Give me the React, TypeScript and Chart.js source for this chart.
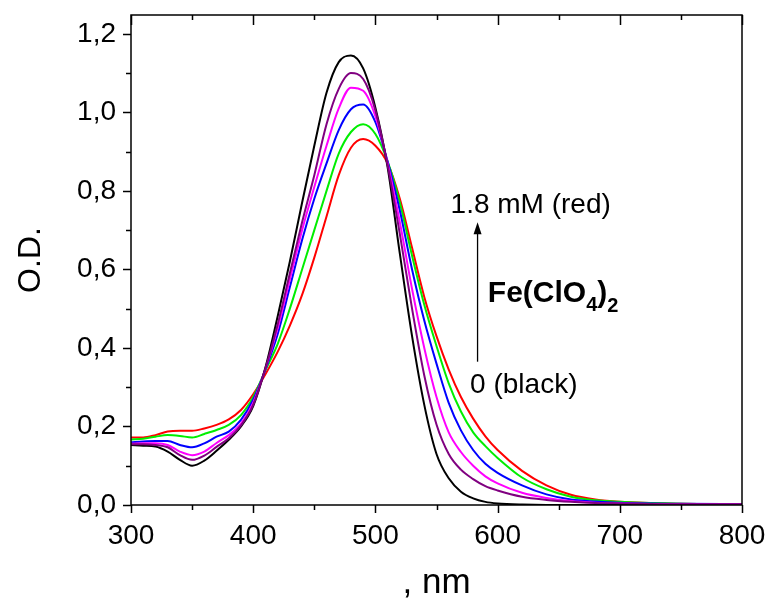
import React, { useEffect, useRef } from "react";
import { Chart, registerables } from "chart.js";

Chart.register(...registerables);

const FONT = "'Liberation Sans', Arial, Helvetica, sans-serif";

// Wavelength grid (nm)
const wavelengths = [
  300, 310, 320, 330, 340, 350, 360, 370, 380, 390, 400, 410, 420, 430, 440,
  450, 460, 470, 480, 490, 500, 510, 520, 530, 540, 550, 560, 570, 580, 590,
  600, 620, 640, 660, 680, 700, 750, 800,
];

// Optical density for each Fe(ClO4)2 concentration
const odBlack = [
  0.153, 0.151, 0.149, 0.136, 0.115, 0.1, 0.113, 0.138, 0.166, 0.2, 0.252, 0.35,
  0.48, 0.62, 0.77, 0.915, 1.05, 1.128, 1.145, 1.112, 1.012, 0.86, 0.64, 0.43,
  0.255, 0.13, 0.068, 0.034, 0.017, 0.008, 0.004, 0.001, 0.0, 0.0, 0.0, 0.0,
  0.0, 0.0,
];
const odPurple = [
  0.155, 0.155, 0.153, 0.147, 0.127, 0.115, 0.126, 0.148, 0.17, 0.203, 0.255,
  0.348, 0.46, 0.59, 0.72, 0.84, 0.97, 1.06, 1.1, 1.085, 1.005, 0.865, 0.69,
  0.5, 0.33, 0.205, 0.13, 0.09, 0.066, 0.048, 0.037, 0.021, 0.013, 0.008,
  0.005, 0.004, 0.002, 0.002,
];
const odMagenta = [
  0.156, 0.157, 0.157, 0.153, 0.136, 0.127, 0.136, 0.158, 0.178, 0.207, 0.26,
  0.347, 0.45, 0.575, 0.7, 0.81, 0.915, 1.01, 1.063, 1.055, 0.99, 0.87, 0.72,
  0.55, 0.4, 0.275, 0.185, 0.135, 0.1, 0.073, 0.055, 0.031, 0.018, 0.01,
  0.006, 0.004, 0.002, 0.002,
];
const odBlue = [
  0.16, 0.162, 0.163, 0.163, 0.153, 0.147, 0.157, 0.174, 0.187, 0.217, 0.268,
  0.345, 0.435, 0.555, 0.675, 0.78, 0.87, 0.955, 1.008, 1.02, 0.975, 0.875,
  0.75, 0.6, 0.47, 0.36, 0.26, 0.19, 0.14, 0.105, 0.082, 0.05, 0.027, 0.014,
  0.009, 0.006, 0.003, 0.002,
];
const odGreen = [
  0.167, 0.169, 0.174, 0.178, 0.176, 0.172, 0.181, 0.191, 0.204, 0.229, 0.275,
  0.343, 0.41, 0.5, 0.6, 0.7, 0.8, 0.895, 0.95, 0.97, 0.945, 0.875, 0.77,
  0.635, 0.51, 0.405, 0.31, 0.238, 0.185, 0.15, 0.12, 0.07, 0.04, 0.021, 0.012,
  0.008, 0.003, 0.002,
];
const odRed = [
  0.172, 0.172, 0.178, 0.187, 0.189, 0.189, 0.195, 0.204, 0.218, 0.242, 0.282,
  0.333, 0.39, 0.457, 0.535, 0.63, 0.735, 0.84, 0.91, 0.932, 0.915, 0.87, 0.78,
  0.655, 0.53, 0.43, 0.345, 0.275, 0.22, 0.175, 0.14, 0.087, 0.05, 0.026,
  0.014, 0.008, 0.003, 0.002,
];

const seriesNames = ["purple", "black", "magenta", "blue", "green", "red"];
const seriesColors = ["#800080", "#000000", "#ff00ff", "#0000ff", "#00ee00", "#ff0000"];
const seriesValues = [odPurple, odBlack, odMagenta, odBlue, odGreen, odRed];

const xTicks = [300, 400, 500, 600, 700, 800];
const xMinorTicks = [350, 450, 550, 650, 750];
const yTicks = [0, 0.2, 0.4, 0.6, 0.8, 1.0, 1.2];
const yMinorTicks = [0.1, 0.3, 0.5, 0.7, 0.9, 1.1];

const X_MIN = 300;
const X_MAX = 800;
const Y_MIN = 0;
const Y_MAX = 1.248;

// annotation anchors in data space
const arrowX = 583.6;
const arrowFrom = 0.365;
const arrowTo = 0.72;
const topLabel = { text: "1.8 mM (red)", x: 561.5, y: 0.744 };
const bottomLabel = { text: "0 (black)", x: 577.5, y: 0.285 };
const saltLabel = { x: 592, y: 0.518 };

const framePlugin = {
  id: "frameAndNotes",
  afterDraw(chart: any) {
    const { ctx, chartArea, scales } = chart;
    const { left, right, top, bottom } = chartArea;
    const xs = scales.x;
    const ys = scales.y;
    ctx.save();
    ctx.strokeStyle = "#000";
    ctx.lineWidth = 1.5;
    ctx.strokeRect(left, top, right - left, bottom - top);
    ctx.beginPath();
    xTicks.forEach((v) => {
      const px = Math.round(xs.getPixelForValue(v)) + 0.5;
      ctx.moveTo(px, bottom);
      ctx.lineTo(px, bottom + 8);
      ctx.moveTo(px, top);
      ctx.lineTo(px, top + 10);
    });
    xMinorTicks.forEach((v) => {
      const px = Math.round(xs.getPixelForValue(v)) + 0.5;
      ctx.moveTo(px, bottom);
      ctx.lineTo(px, bottom + 5);
      ctx.moveTo(px, top);
      ctx.lineTo(px, top + 5);
    });
    yTicks.forEach((v) => {
      const py = Math.round(ys.getPixelForValue(v)) + 0.5;
      ctx.moveTo(left, py);
      ctx.lineTo(left - 8, py);
    });
    yMinorTicks.forEach((v) => {
      const py = Math.round(ys.getPixelForValue(v)) + 0.5;
      ctx.moveTo(left, py);
      ctx.lineTo(left - 5, py);
    });
    ctx.stroke();

    // arrow
    const ax = xs.getPixelForValue(arrowX);
    const ay0 = ys.getPixelForValue(arrowFrom);
    const ay1 = ys.getPixelForValue(arrowTo);
    ctx.lineWidth = 1.3;
    ctx.beginPath();
    ctx.moveTo(ax, ay0);
    ctx.lineTo(ax, ay1 + 8);
    ctx.stroke();
    ctx.fillStyle = "#000";
    ctx.beginPath();
    ctx.moveTo(ax, ay1);
    ctx.lineTo(ax - 4, ay1 + 12);
    ctx.lineTo(ax + 4, ay1 + 12);
    ctx.closePath();
    ctx.fill();

    // labels
    ctx.textBaseline = "alphabetic";
    ctx.textAlign = "left";
    ctx.font = `28px ${FONT}`;
    ctx.fillText(topLabel.text, xs.getPixelForValue(topLabel.x), ys.getPixelForValue(topLabel.y));
    ctx.fillText(bottomLabel.text, xs.getPixelForValue(bottomLabel.x), ys.getPixelForValue(bottomLabel.y));

    let sx = xs.getPixelForValue(saltLabel.x);
    const sy = ys.getPixelForValue(saltLabel.y);
    const big = `bold 30px ${FONT}`;
    const small = `bold 20px ${FONT}`;
    const parts: [string, string, number][] = [
      ["Fe(ClO", big, 0],
      ["4", small, 9],
      [")", big, 0],
      ["2", small, 10],
    ];
    parts.forEach(([t, f, dy]) => {
      ctx.font = f;
      ctx.fillText(t, sx, sy + dy);
      sx += ctx.measureText(t).width;
    });
    ctx.restore();
  },
};

export default function App() {
  const canvasRef = useRef<HTMLCanvasElement | null>(null);

  useEffect(() => {
    const canvas = canvasRef.current;
    if (!canvas) return;
    const datasets = seriesValues.map((vals, i) => ({
      label: seriesNames[i],
      data: wavelengths.map((w, j) => ({ x: w, y: vals[j] })),
      borderColor: seriesColors[i],
      backgroundColor: seriesColors[i],
      borderWidth: 2,
      pointRadius: 0,
      cubicInterpolationMode: "monotone" as const,
      fill: false,
    }));
    const chart = new Chart(canvas, {
      type: "line",
      data: { datasets },
      options: {
        responsive: false,
        animation: false,
        events: [],
        layout: { padding: { left: 0, top: 15, right: 30, bottom: 0 } },
        plugins: {
          legend: { display: false },
          tooltip: { enabled: false },
        },
        scales: {
          x: {
            type: "linear",
            min: X_MIN,
            max: X_MAX,
            afterBuildTicks: (scale: any) => {
              scale.ticks = xTicks.map((v) => ({ value: v }));
            },
            afterFit: (scale: any) => {
              scale.height = 103;
              scale.paddingLeft = 0;
              scale.paddingRight = 0;
            },
            grid: { display: false, drawTicks: false },
            border: { display: false },
            ticks: {
              color: "#000",
              font: { family: FONT, size: 28 },
              padding: 14,
              maxRotation: 0,
              autoSkip: false,
              callback: (v: any) => String(v),
            },
            title: {
              display: true,
              text: ", nm",
              color: "#000",
              font: { family: FONT, size: 35 },
              padding: { top: 0, bottom: 4 },
            },
          },
          y: {
            type: "linear",
            min: Y_MIN,
            max: Y_MAX,
            afterBuildTicks: (scale: any) => {
              scale.ticks = yTicks.map((v) => ({ value: v }));
            },
            afterFit: (scale: any) => {
              scale.width = 131;
              scale.paddingTop = 0;
              scale.paddingBottom = 0;
            },
            grid: { display: false, drawTicks: false },
            border: { display: false },
            ticks: {
              color: "#000",
              font: { family: FONT, size: 28 },
              padding: 15,
              autoSkip: false,
              callback: (v: any) => Number(v).toFixed(1).replace(".", ","),
            },
            title: {
              display: true,
              text: "O.D.",
              color: "#000",
              font: { family: FONT, size: 32 },
              padding: { top: 12, bottom: 0 },
            },
          },
        },
      },
      plugins: [framePlugin],
    });
    return () => chart.destroy();
  }, []);

  return (
    <div style={{ position: "absolute", left: 0, top: 0, width: 772, height: 608, background: "#fff" }}>
      <canvas ref={canvasRef} width={772} height={608} style={{ display: "block" }} />
    </div>
  );
}
